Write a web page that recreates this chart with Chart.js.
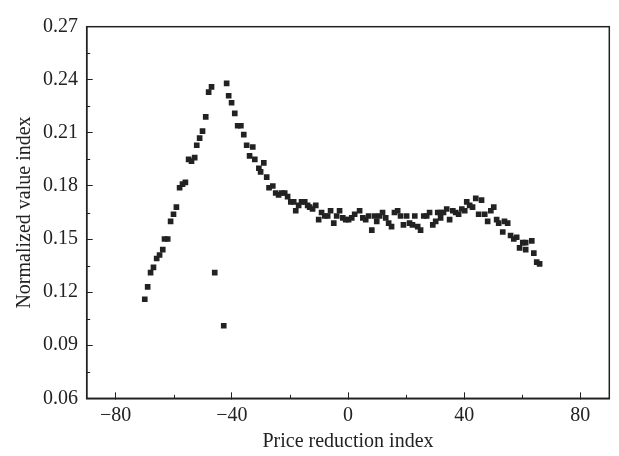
<!DOCTYPE html>
<html>
<head>
<meta charset="UTF-8">
<script src="https://cdn.jsdelivr.net/npm/chart.js@4.4.1/dist/chart.umd.min.js"></script>
<style>
  html, body { margin: 0; padding: 0; background: #fff; }
  #wrap { width: 619px; height: 456px; }
</style>
</head>
<body>
<div id="wrap"><canvas id="scatter"></canvas></div>
<script>
// price reduction index (x) and normalized value index (y)
var priceIdx = [
  -70.0, -69.0, -68.0, -67.0, -65.9, -64.9, -63.8, -63.2, -62.1, -61.1,
  -60.1, -59.1, -58.0, -57.0, -56.0, -54.9, -53.9, -52.8, -52.1, -51.1,
  -50.1, -49.0, -48.0, -47.0, -45.9, -42.8, -41.8, -41.1, -40.1, -39.0,
  -38.0, -36.9, -35.9, -34.9, -33.9, -32.8, -32.1, -30.7, -30.1, -29.0,
  -28.0, -27.2, -25.9, -24.9, -23.9, -22.8, -21.8, -20.8, -19.7, -18.7,
  -18.0, -17.0, -16.0, -14.9, -13.9, -13.2, -12.2, -11.1, -10.1, -9.1,
  -8.0, -7.0, -6.0, -4.9, -3.9, -2.9, -1.8, -0.8, 0.2, 1.3,
  2.3, 4.0, 5.1, 6.1, 7.1, 8.2, 9.2, 9.9, 10.9, 11.9,
  13.0, 14.0, 15.0, 16.0, 17.1, 18.1, 19.1, 20.2, 21.2, 22.2,
  23.0, 24.0, 25.0, 26.1, 27.1, 28.1, 29.2, 30.2, 30.9, 31.9,
  31.9, 32.9, 34.0, 35.0, 36.1, 37.1, 38.1, 39.2, 40.2, 40.9,
  41.9, 42.9, 44.0, 45.0, 46.0, 47.1, 48.1, 49.2, 50.2, 51.2,
  51.9, 53.3, 53.9, 55.0, 56.0, 57.1, 58.1, 59.1, 60.2, 61.2,
  61.2, 63.3, 64.0, 65.0, 66.0
];
var valueIdx = [
  0.116, 0.123, 0.131, 0.134, 0.139, 0.141, 0.144, 0.150, 0.150, 0.160,
  0.164, 0.168, 0.179, 0.181, 0.182, 0.195, 0.194, 0.196, 0.203, 0.207,
  0.211, 0.219, 0.233, 0.236, 0.131, 0.101, 0.238, 0.231, 0.227, 0.221,
  0.214, 0.214, 0.209, 0.203, 0.197, 0.202, 0.195, 0.190, 0.188, 0.193,
  0.185, 0.179, 0.180, 0.176, 0.175, 0.176, 0.176, 0.174, 0.171, 0.171,
  0.166, 0.169, 0.171, 0.171, 0.169, 0.168, 0.167, 0.169, 0.161, 0.165,
  0.163, 0.163, 0.166, 0.159, 0.163, 0.166, 0.162, 0.161, 0.161, 0.162,
  0.164, 0.166, 0.162, 0.161, 0.163, 0.155, 0.163, 0.160, 0.163, 0.165,
  0.162, 0.159, 0.157, 0.165, 0.166, 0.163, 0.158, 0.163, 0.159, 0.158,
  0.163, 0.157, 0.155, 0.163, 0.163, 0.165, 0.158, 0.160, 0.165, 0.165,
  0.162, 0.165, 0.167, 0.161, 0.166, 0.165, 0.164, 0.167, 0.166, 0.171,
  0.169, 0.168, 0.173, 0.164, 0.172, 0.164, 0.160, 0.166, 0.168, 0.161,
  0.159, 0.154, 0.160, 0.159, 0.152, 0.150, 0.151, 0.145, 0.148, 0.148,
  0.144, 0.149, 0.142, 0.137, 0.136
];

var xTicks = [-80, -40, 0, 40, 80];
var xMinor = [-60, -20, 20, 60];
var yTicks = [0.06, 0.09, 0.12, 0.15, 0.18, 0.21, 0.24, 0.27];
var yMinor = [0.075, 0.105, 0.135, 0.165, 0.195, 0.225, 0.255];

var ink = '#222';
var serif = "'Liberation Serif', 'DejaVu Serif', serif";

var pts = [];
for (var i = 0; i < priceIdx.length; i++) {
  pts.push({x: priceIdx[i], y: valueIdx[i]});
}

// box around the plot plus the short minor ticks
var frame = {
  id: 'frame',
  afterDraw: function(chart) {
    var c = chart.ctx, a = chart.chartArea;
    var sx = chart.scales.x, sy = chart.scales.y;
    c.save();
    c.strokeStyle = ink;
    c.lineWidth = 1.5;
    c.strokeRect(a.left, a.top, a.right - a.left, a.bottom - a.top);
    c.lineWidth = 1;
    c.beginPath();
    xMinor.forEach(function(v) {
      var p = Math.round(sx.getPixelForValue(v)) + 0.5;
      c.moveTo(p, a.bottom);
      c.lineTo(p, a.bottom - 3.5);
    });
    yMinor.forEach(function(v) {
      var p = Math.round(sy.getPixelForValue(v)) + 0.5;
      c.moveTo(a.left, p);
      c.lineTo(a.left + 3.5, p);
    });
    c.stroke();
    c.restore();
  }
};

new Chart(document.getElementById('scatter'), {
  type: 'scatter',
  data: {
    datasets: [{
      data: pts,
      pointStyle: 'rect',
      pointRadius: 4,
      pointBorderWidth: 0,
      backgroundColor: ink,
      borderColor: ink
    }]
  },
  options: {
    responsive: true,
    maintainAspectRatio: false,
    animation: false,
    layout: { padding: { left: 0, right: 9.7, top: 16, bottom: 0 } },
    plugins: { legend: { display: false }, tooltip: { enabled: false } },
    scales: {
      x: {
        type: 'linear',
        min: -90, max: 90,
        afterBuildTicks: function(s) { s.ticks = xTicks.map(function(v) { return {value: v}; }); },
        afterFit: function(s) { s.height = 57.7; },
        grid: { drawOnChartArea: false, drawTicks: true, tickLength: -6, tickColor: ink, tickWidth: 1 },
        border: { display: true, color: ink, width: 1.5 },
        ticks: {
          padding: 11.7,
          color: ink,
          font: { family: serif, size: 20 },
          callback: function(v) { return v < 0 ? '\u2212' + Math.abs(v) : String(v); }
        },
        title: {
          display: true,
          text: 'Price reduction index',
          color: ink,
          font: { family: serif, size: 20 },
          padding: { top: 0, bottom: 2 }
        }
      },
      y: {
        type: 'linear',
        min: 0.06, max: 0.27,
        afterBuildTicks: function(s) { s.ticks = yTicks.map(function(v) { return {value: v}; }); },
        afterFit: function(s) { s.width = 86.7; },
        grid: { drawOnChartArea: false, drawTicks: true, tickLength: -6, tickColor: ink, tickWidth: 1 },
        border: { display: true, color: ink, width: 1.5 },
        ticks: {
          padding: 14.7,
          color: ink,
          font: { family: serif, size: 20 },
          callback: function(v) { return v.toFixed(2); }
        },
        title: {
          display: true,
          text: 'Normalized value index',
          color: ink,
          font: { family: serif, size: 20 },
          padding: { top: 12.5, bottom: 0 }
        }
      }
    }
  },
  plugins: [frame]
});
</script>
</body>
</html>
